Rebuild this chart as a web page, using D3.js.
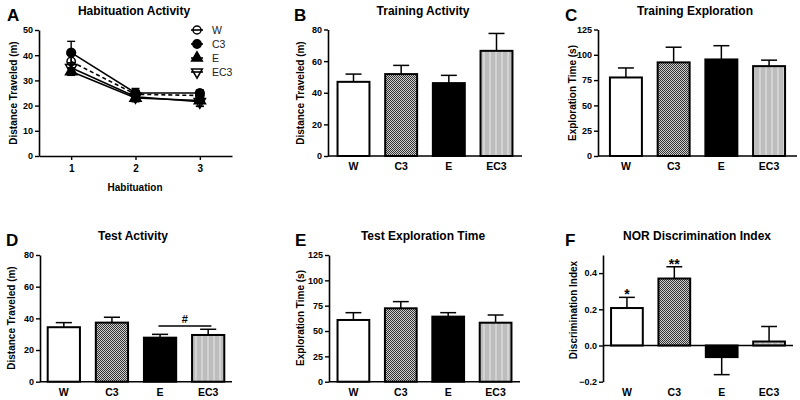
<!DOCTYPE html>
<html><head><meta charset="utf-8">
<script src="https://cdn.jsdelivr.net/npm/d3@7"></script>
<style>body{margin:0;background:#fff}svg{display:block}</style>
</head><body>
<script>
// ---------- data ----------
const groups = ["W", "C3", "E", "EC3"];
const habDays = [1, 2, 3];
const habW = [37.5, 24.5, 24.0];
const habWErr = [2.5, 1.5, 1.5];
const habC3 = [41.0, 25.0, 25.0];
const habC3Err = [4.5, 1.8, 1.2];
const habE = [33.5, 23.0, 22.0];
const habEErr = [1.5, 1.2, 2.3];
const habEC3 = [35.0, 23.5, 21.5];
const habEC3Err = [2.0, 2.0, 1.8];
const habTicks = [0, 10, 20, 30, 40, 50];

const trainActMean = [46.9, 51.8, 46.1, 66.5];
const trainActErr = [4.9, 5.5, 4.9, 11.0];
const trainExpMean = [77.6, 92.5, 95.4, 88.8];
const trainExpErr = [9.4, 15.0, 13.6, 5.9];
const testActMean = [34.4, 37.3, 27.8, 29.5];
const testActErr = [2.9, 3.4, 2.1, 3.6];
const testExpMean = [60.9, 72.4, 64.2, 58.2];
const testExpErr = [7.2, 6.6, 3.9, 7.6];
const norMean = [0.207, 0.370, -0.064, 0.022];
const norErr = [0.059, 0.065, 0.097, 0.083];
const norStars = ["*", "**", "", ""];

const activityTicks = [0, 20, 40, 60, 80];
const timeTicks = [0, 25, 50, 75, 100, 125];
const norTicks = [-0.2, 0.0, 0.2, 0.4];
const testActBracket = {from: "E", to: "EC3", value: 35.2, label: "#"};

// ---------- drawing ----------
const FONT = "'Liberation Sans', Arial, Helvetica, sans-serif";
const svg = d3.select("body").append("svg").attr("width", 800).attr("height", 400)
  .style("font-family", FONT);

const defs = svg.append("defs");
const pc = defs.append("pattern").attr("id", "checker").attr("patternUnits", "userSpaceOnUse")
  .attr("width", 2).attr("height", 2);
pc.append("rect").attr("width", 2).attr("height", 2).attr("fill", "#cfcfcf");
pc.append("rect").attr("width", 1).attr("height", 1).attr("fill", "#333333");
pc.append("rect").attr("x", 1).attr("y", 1).attr("width", 1).attr("height", 1).attr("fill", "#333333");
const ps = defs.append("pattern").attr("id", "stripes").attr("patternUnits", "userSpaceOnUse")
  .attr("width", 6).attr("height", 6);
ps.append("rect").attr("width", 6).attr("height", 6).attr("fill", "#bdbdbd");
ps.append("rect").attr("x", 3).attr("width", 2).attr("height", 6).attr("fill", "#d3d3d3");

const fills = {W: "#ffffff", C3: "url(#checker)", E: "#000000", EC3: "url(#stripes)"};

function styleAxis(g) {
  g.select(".domain").attr("stroke", "#000").attr("stroke-width", 1.6);
  g.selectAll(".tick line").attr("stroke", "#000").attr("stroke-width", 1.4);
  g.selectAll(".tick text").attr("fill", "#000").style("font-family", FONT)
    .style("font-size", "9px").style("font-weight", "bold");
}

function panelText(letter, lx, ly, title, tx, ty, ylabel, yx, yy) {
  svg.append("text").attr("x", lx).attr("y", ly).text(letter)
    .style("font-size", "17px").style("font-weight", "bold");
  svg.append("text").attr("x", tx).attr("y", ty).attr("text-anchor", "middle").text(title)
    .style("font-size", "12px").style("font-weight", "bold");
  svg.append("text").attr("transform", `translate(${yx},${yy}) rotate(-90)`)
    .attr("text-anchor", "middle").attr("dy", "0.35em").text(ylabel)
    .style("font-size", "10px").style("font-weight", "bold");
}

function barPanel(o) {
  const x = d3.scaleBand().domain(groups).range(o.xr).paddingInner(0.33).paddingOuter(o.po);
  const y = d3.scaleLinear().domain(o.domain).range(o.yr);
  const g = svg.append("g");
  // error bars
  const eb = g.append("g").attr("stroke", "#000").attr("stroke-width", 1.5);
  groups.forEach((k, i) => {
    const m = o.mean[i], e = o.err[i];
    const end = m >= 0 ? m + e : m - e;
    const cx = x(k) + x.bandwidth() / 2;
    eb.append("line").attr("x1", cx).attr("x2", cx).attr("y1", y(m)).attr("y2", y(end));
    eb.append("line").attr("x1", cx - x.bandwidth() / 4).attr("x2", cx + x.bandwidth() / 4)
      .attr("y1", y(end)).attr("y2", y(end));
  });
  // bars
  g.selectAll("rect.bar").data(groups).join("rect").attr("class", "bar")
    .attr("x", k => x(k)).attr("width", x.bandwidth())
    .attr("y", (k, i) => y(Math.max(0, o.mean[i])))
    .attr("height", (k, i) => Math.abs(y(o.mean[i]) - y(0)))
    .attr("fill", k => fills[k]).attr("stroke", "#000").attr("stroke-width", 2);
  // y axis
  const ya = g.append("g").attr("transform", `translate(${o.xr[0]},0)`)
    .call(d3.axisLeft(y).tickValues(o.ticks).tickSize(4).tickSizeOuter(0).tickPadding(2)
      .tickFormat(o.fmt || d3.format("d")));
  styleAxis(ya);
  // x baseline
  g.append("line").attr("x1", o.xr[0]).attr("x2", o.xr[1]).attr("y1", y(0)).attr("y2", y(0))
    .attr("stroke", "#000").attr("stroke-width", 1.6);
  // category labels
  g.selectAll("text.cat").data(groups).join("text").attr("class", "cat")
    .attr("x", k => x(k) + x.bandwidth() / 2).attr("y", o.labelY).attr("text-anchor", "middle")
    .text(k => k).style("font-size", "10.5px").style("font-weight", "bold");
  return {x, y, g};
}

// ---------- Panel A ----------
(function () {
  const x = d3.scaleLinear().domain([0.5, 3.5]).range([39, 232]);
  const y = d3.scaleLinear().domain([0, 50]).range([156, 30]);
  const g = svg.append("g");
  const series = [
    {name: "W", vals: habW, err: habWErr, sym: d3.symbolCircle, size: 55, fill: "none", dash: "4,3", rot: 0},
    {name: "C3", vals: habC3, err: habC3Err, sym: d3.symbolCircle, size: 60, fill: "#000", dash: null, rot: 0},
    {name: "E", vals: habE, err: habEErr, sym: d3.symbolTriangle, size: 55, fill: "#000", dash: null, rot: 0},
    {name: "EC3", vals: habEC3, err: habEC3Err, sym: d3.symbolTriangle, size: 55, fill: "none", dash: null, rot: 180}
  ];
  const ya = g.append("g").attr("transform", "translate(39,0)")
    .call(d3.axisLeft(y).tickValues(habTicks).tickSize(4).tickSizeOuter(0).tickPadding(2));
  styleAxis(ya);
  const xa = g.append("g").attr("transform", "translate(0,156)")
    .call(d3.axisBottom(x).tickValues(habDays).tickSize(4).tickSizeOuter(0).tickPadding(5).tickFormat(d3.format("d")));
  styleAxis(xa);
  xa.selectAll(".tick text").style("font-size", "10px");
  const line = d3.line().x((d, i) => x(habDays[i])).y(d => y(d));
  series.forEach(s => {
    const eg = g.append("g").attr("stroke", "#000").attr("stroke-width", 1.4);
    s.vals.forEach((v, i) => {
      const cx = x(habDays[i]);
      eg.append("line").attr("x1", cx).attr("x2", cx).attr("y1", y(v - s.err[i])).attr("y2", y(v + s.err[i]));
      [v - s.err[i], v + s.err[i]].forEach(e =>
        eg.append("line").attr("x1", cx - 4).attr("x2", cx + 4).attr("y1", y(e)).attr("y2", y(e)));
    });
  });
  series.forEach(s => {
    g.append("path").datum(s.vals).attr("d", line).attr("fill", "none").attr("stroke", "#000")
      .attr("stroke-width", 1.6).attr("stroke-dasharray", s.dash);
  });
  series.forEach(s => {
    g.selectAll(null).data(s.vals).join("path")
      .attr("d", d3.symbol(s.sym, s.size))
      .attr("transform", (d, i) => `translate(${x(habDays[i])},${y(d)}) rotate(${s.rot})`)
      .attr("fill", s.fill).attr("stroke", "#000").attr("stroke-width", 1.5);
  });
  // legend
  const lg = g.append("g");
  series.forEach((s, i) => {
    const ly = 30 + i * 14;
    lg.append("line").attr("x1", 191).attr("x2", 203).attr("y1", ly).attr("y2", ly)
      .attr("stroke", "#000").attr("stroke-width", 1.6);
    lg.append("path").attr("d", d3.symbol(s.sym, s.size - 5))
      .attr("transform", `translate(197,${ly}) rotate(${s.rot})`)
      .attr("fill", s.fill).attr("stroke", "#000").attr("stroke-width", 1.5);
    lg.append("text").attr("x", 212).attr("y", ly).attr("dy", "0.35em").text(s.name)
      .style("font-size", "10.5px").attr("fill", "#222");
  });
  g.append("text").attr("x", 135).attr("y", 191).attr("text-anchor", "middle").text("Habituation")
    .style("font-size", "10px").style("font-weight", "bold");
  panelText("A", 7, 21, "Habituation Activity", 134, 15, "Distance Traveled (m)", 13, 93);
})();

// ---------- Panel B ----------
barPanel({xr: [328, 522], yr: [156, 29.5], domain: [0, 80], ticks: activityTicks, po: 0.2,
  mean: trainActMean, err: trainActErr, labelY: 170});
panelText("B", 294, 21, "Training Activity", 423, 15, "Distance Traveled (m)", 300, 93);

// ---------- Panel C ----------
barPanel({xr: [598, 797], yr: [156, 29.5], domain: [0, 125], ticks: timeTicks, po: 0.25,
  mean: trainExpMean, err: trainExpErr, labelY: 170});
panelText("C", 565, 21, "Training Exploration", 695, 15, "Exploration Time (s)", 572, 93);

// ---------- Panel D ----------
const pD = barPanel({xr: [40, 232], yr: [381.7, 255], domain: [0, 80], ticks: activityTicks, po: 0.16,
  mean: testActMean, err: testActErr, labelY: 396});
panelText("D", 6, 246, "Test Activity", 133, 240, "Distance Traveled (m)", 11, 318);
(function () {
  const x = pD.x, y = pD.y;
  const x1 = x(testActBracket.from) + x.bandwidth() * 0.45;
  const x2 = x(testActBracket.to) + x.bandwidth() * 0.6;
  pD.g.append("line").attr("x1", x1).attr("x2", x2)
    .attr("y1", y(testActBracket.value)).attr("y2", y(testActBracket.value))
    .attr("stroke", "#000").attr("stroke-width", 1.6);
  pD.g.append("text").attr("x", (x1 + x2) / 2).attr("y", y(testActBracket.value) - 3)
    .attr("text-anchor", "middle").text(testActBracket.label)
    .style("font-size", "11px").style("font-weight", "bold");
})();

// ---------- Panel E ----------
barPanel({xr: [329, 520], yr: [381.7, 255], domain: [0, 125], ticks: timeTicks, po: 0.18,
  mean: testExpMean, err: testExpErr, labelY: 396});
panelText("E", 295, 246, "Test Exploration Time", 423, 240, "Exploration Time (s)", 300, 318);

// ---------- Panel F ----------
const pF = barPanel({xr: [603, 793], yr: [381.7, 255], domain: [-0.2, 0.5], ticks: norTicks, po: 0.17,
  mean: norMean, err: norErr, labelY: 396, fmt: d3.format(".1f")});
panelText("F", 565, 246, "NOR Discrimination Index", 697, 240, "Discrimination Index", 573, 310);
pF.g.selectAll("text.star").data(groups).join("text").attr("class", "star")
  .attr("x", k => pF.x(k) + pF.x.bandwidth() / 2)
  .attr("y", (k, i) => pF.y(norMean[i] + norErr[i]) + 2)
  .attr("text-anchor", "middle").text((k, i) => norStars[i])
  .style("font-size", "14px").style("font-weight", "bold");
</script>
</body></html>
